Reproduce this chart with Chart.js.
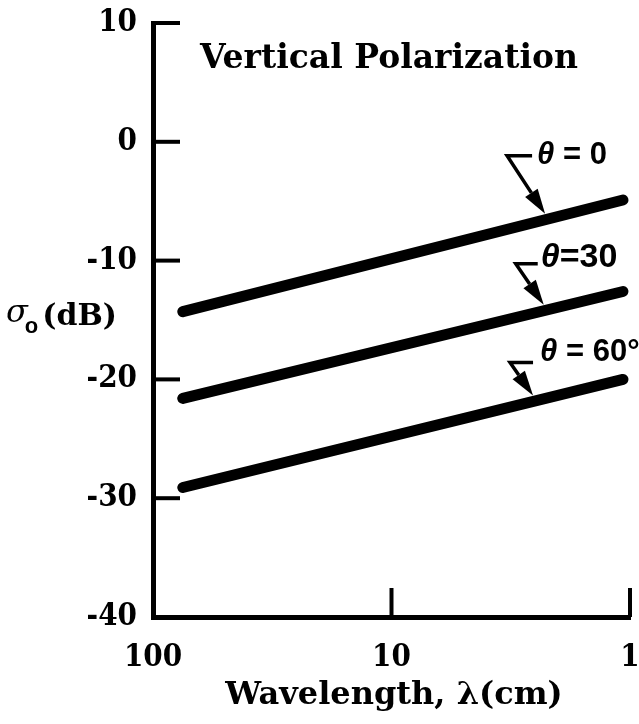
<!DOCTYPE html>
<html>
<head>
<meta charset="utf-8">
<script src="https://cdn.jsdelivr.net/npm/chart.js@4.4.1/dist/chart.umd.min.js"></script>
<style>
  html, body { margin: 0; background: #fff; }
  canvas { display: block; }
</style>
</head>
<body>
<canvas id="sigmaChart" width="639" height="724"></canvas>
<script>
(function () {
  "use strict";

  // backscatter vs wavelength, vertical polarization
  const wavelengths  = [75, 1.07];          // cm
  const sigmaTheta0  = [-14.3, -4.9];       // dB
  const sigmaTheta30 = [-21.6, -12.6];
  const sigmaTheta60 = [-29.1, -20.0];

  const curveLabels = ["θ = 0", "θ=30", "θ = 60°"];
  const labelSizes  = [31, 34, 31];
  const arrowLambda = [2.27, 2.30, 2.55];   // where each label's arrow lands

  const xTickValues = [100, 10, 1];
  const yTickValues = [10, 0, -10, -20, -30, -40];

  const chartTitle = "Vertical Polarization";
  const xTitle = "Wavelength, λ(cm)";

  const SERIF   = "'DejaVu Serif', serif";
  const SERIF_N = "'DejaVu Serif Condensed', 'DejaVu Serif', serif";
  const SANS    = "'Liberation Sans', Arial, sans-serif";
  const INK     = "#000";

  // leader geometry per label: knee offset from the tip, bar length, text offset from the knee
  const leaders = [
    { knee: [-38, -58], bar: 25, text: [30, 0] },
    { knee: [-28, -41], bar: 22, text: [25, -6] },
    { knee: [-23, -33], bar: 23, text: [30, -10] }
  ];

  const series = [sigmaTheta0, sigmaTheta30, sigmaTheta60];

  function valueAt(ys, lambda) {
    const a = Math.log10(wavelengths[0]);
    const b = Math.log10(wavelengths[1]);
    const t = (Math.log10(lambda) - a) / (b - a);
    return ys[0] + t * (ys[1] - ys[0]);
  }

  const decorations = {
    id: "decorations",
    afterDraw(chart) {
      const ctx = chart.ctx;
      const xs = chart.scales.x;
      const ys = chart.scales.y;
      const area = chart.chartArea;
      ctx.save();
      ctx.strokeStyle = INK;
      ctx.fillStyle = INK;

      // inward tick marks
      ctx.lineWidth = 4;
      ctx.lineCap = "butt";
      yTickValues.slice(0, -1).forEach(v => {
        const y = ys.getPixelForValue(v);
        ctx.beginPath();
        ctx.moveTo(area.left, y);
        ctx.lineTo(area.left + 27, y);
        ctx.stroke();
      });
      xTickValues.slice(1).forEach(v => {
        const x = xs.getPixelForValue(v);
        ctx.beginPath();
        ctx.moveTo(x, area.bottom);
        ctx.lineTo(x, area.bottom - 29);
        ctx.stroke();
      });

      // title inside the plot
      ctx.font = "bold 33px " + SERIF;
      ctx.textAlign = "left";
      ctx.textBaseline = "alphabetic";
      ctx.fillText(chartTitle, 200, 68);

      // x axis title
      ctx.font = "bold 32px " + SERIF;
      ctx.textAlign = "center";
      ctx.fillText(xTitle, 394, 704);

      // y axis title: sigma with subscript o, then (dB)
      ctx.textAlign = "left";
      let x = 6;
      ctx.font = "italic 32px " + SERIF;
      ctx.fillText("σ", x, 322);
      x += ctx.measureText("σ").width - 3;
      ctx.font = "bold 22px " + SANS;
      ctx.fillText("o", x, 333);
      x += ctx.measureText("o").width + 4;
      ctx.font = "bold 30px " + SERIF;
      ctx.fillText("(dB)", x, 325);

      // curve labels with leader arrows
      series.forEach((vals, i) => {
        const L = leaders[i];
        const tipX = xs.getPixelForValue(arrowLambda[i]);
        const tipY = ys.getPixelForValue(valueAt(vals, arrowLambda[i])) - 6;
        const kx = tipX + L.knee[0];
        const ky = tipY + L.knee[1];
        const ang = Math.atan2(tipY - ky, tipX - kx);
        const headLen = 25, headHalf = 7.5;
        const bx = tipX - headLen * Math.cos(ang);
        const by = tipY - headLen * Math.sin(ang);

        ctx.lineWidth = 3.5;
        ctx.lineJoin = "miter";
        ctx.beginPath();
        ctx.moveTo(kx + L.bar, ky);
        ctx.lineTo(kx, ky);
        ctx.lineTo(bx, by);
        ctx.stroke();

        ctx.beginPath();
        ctx.moveTo(tipX, tipY);
        ctx.lineTo(bx + headHalf * Math.sin(ang), by - headHalf * Math.cos(ang));
        ctx.lineTo(bx - headHalf * Math.sin(ang), by + headHalf * Math.cos(ang));
        ctx.closePath();
        ctx.fill();

        const label = curveLabels[i];
        let tx = kx + L.text[0];
        const ty = ky + L.text[1];
        ctx.textBaseline = "middle";
        ctx.font = "italic bold " + labelSizes[i] + "px " + SANS;
        ctx.fillText(label[0], tx, ty);
        tx += ctx.measureText(label[0]).width;
        ctx.font = "bold " + labelSizes[i] + "px " + SANS;
        ctx.fillText(label.slice(1), tx, ty);
      });

      ctx.restore();
    }
  };

  function toPoints(ys) {
    return wavelengths.map((w, i) => ({ x: w, y: ys[i] }));
  }

  const lineStyle = {
    borderColor: INK,
    borderWidth: 11,
    borderCapStyle: "round",
    pointRadius: 0,
    tension: 0,
    fill: false
  };

  new Chart(document.getElementById("sigmaChart"), {
    type: "line",
    data: {
      datasets: [
        Object.assign({ label: curveLabels[0], data: toPoints(sigmaTheta0) }, lineStyle),
        Object.assign({ label: curveLabels[1], data: toPoints(sigmaTheta30) }, lineStyle),
        Object.assign({ label: curveLabels[2], data: toPoints(sigmaTheta60) }, lineStyle)
      ]
    },
    options: {
      responsive: false,
      animation: false,
      layout: { padding: { top: 23, right: 9, left: 0, bottom: 0 } },
      plugins: { legend: { display: false }, tooltip: { enabled: false } },
      scales: {
        x: {
          type: "logarithmic",
          reverse: true,
          min: 1,
          max: 100,
          afterBuildTicks(scale) { scale.ticks = xTickValues.map(v => ({ value: v })); },
          afterFit(scale) {
            scale.height = 107;
            scale.paddingLeft = 0;
            scale.paddingRight = 0;
          },
          grid: { display: false, drawTicks: false },
          border: { display: true, color: INK, width: 5 },
          ticks: {
            color: INK,
            padding: 22,
            maxRotation: 0,
            autoSkip: false,
            font: { family: SERIF_N, size: 31, weight: "bold" },
            callback: v => String(v)
          }
        },
        y: {
          min: -40,
          max: 10,
          afterBuildTicks(scale) { scale.ticks = yTickValues.map(v => ({ value: v })); },
          afterFit(scale) {
            scale.width = 153;
            scale.paddingTop = 0;
            scale.paddingBottom = 0;
          },
          grid: { display: false, drawTicks: false },
          border: { display: true, color: INK, width: 5 },
          ticks: {
            color: INK,
            padding: 16,
            font: { family: SERIF_N, size: 31, weight: "bold" },
            callback: v => String(v)
          }
        }
      }
    },
    plugins: [decorations]
  });
})();
</script>
</body>
</html>
